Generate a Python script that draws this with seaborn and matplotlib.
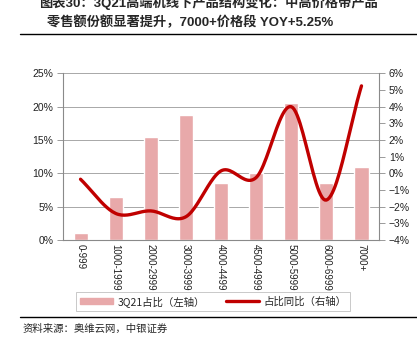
import numpy as np
import pandas as pd
import matplotlib
matplotlib.use("Agg")
import matplotlib.pyplot as plt
import seaborn as sns
from matplotlib.ticker import PercentFormatter, FixedLocator
from matplotlib.lines import Line2D
from matplotlib.patches import Patch

# 데이터
price_band = ['0-999', '1000-1999', '2000-2999', '3000-3999', '4000-4499',
              '4500-4999', '5000-5999', '6000-6999', '7000+']
share_3q21 = [1.0, 6.4, 15.4, 18.7, 8.5, 10.0, 20.6, 8.6, 11.0]      # 左轴 %
share_yoy = [-0.35, -2.4, -2.25, -2.6, 0.15, -0.25, 4.0, -1.6, 5.25]  # 右轴 %

sns.set_theme(style="white")
plt.rcParams['font.family'] = ['Liberation Sans', 'Noto Sans CJK SC', 'DejaVu Sans']

fig = plt.figure(figsize=(4.17, 3.51), dpi=100)
ax = fig.add_axes([0.151, 0.316, 0.758, 0.475])

df = pd.DataFrame({'band': price_band, 'share': share_3q21})
sns.barplot(data=df, x='band', y='share', color='#e8a9aa', saturation=1,
            width=0.4, ax=ax)

ax.set_ylim(0, 25)
ax.set_yticks(range(0, 26, 5))
ax.yaxis.set_major_formatter(PercentFormatter(100, decimals=0))
ax.set_xlim(-0.5, len(price_band) - 0.5)
ax.set_xlabel('')
ax.set_ylabel('')
ax.grid(axis='y', color='#9a9a9a', lw=0.6)
ax.set_axisbelow(True)
ax.set_xticks(range(len(price_band)))
ax.set_xticklabels(price_band, rotation=270, fontsize=7, color='#222222')
ax.tick_params(axis='x', length=0, pad=3)
ax.xaxis.set_minor_locator(FixedLocator(np.arange(-0.5, len(price_band), 1)))
ax.tick_params(axis='x', which='minor', length=4, color='#8a8a8a', width=0.6)
ax.tick_params(axis='y', length=4, color='#8a8a8a', width=0.6, labelsize=7.5,
               labelcolor='#222222', left=True, pad=3)
for s in ['top', 'right']:
    ax.spines[s].set_visible(False)
for s in ['left', 'bottom']:
    ax.spines[s].set_color('#8a8a8a')
    ax.spines[s].set_linewidth(0.8)

# 오른쪽 축: 부드러운 선 (엑셀 스무딩 느낌, Catmull-Rom)
ax2 = ax.twinx()
xs = np.arange(len(share_yoy), dtype=float)
ys = np.array(share_yoy, dtype=float)
px = np.concatenate([[2 * xs[0] - xs[1]], xs, [2 * xs[-1] - xs[-2]]])
py = np.concatenate([[2 * ys[0] - ys[1]], ys, [2 * ys[-1] - ys[-2]]])
t = np.linspace(0, 1, 25)
cx, cy = [], []
for i in range(1, len(px) - 2):
    for arr, out in ((px, cx), (py, cy)):
        p0, p1, p2, p3 = arr[i - 1], arr[i], arr[i + 1], arr[i + 2]
        out.extend(0.5 * (2 * p1 + (-p0 + p2) * t + (2 * p0 - 5 * p1 + 4 * p2 - p3) * t ** 2
                          + (-p0 + 3 * p1 - 3 * p2 + p3) * t ** 3))
sns.lineplot(x=cx, y=cy, sort=False, color='#c00000', lw=2.4, ax=ax2)
ax2.set_ylim(-4, 6)
ax2.set_yticks(range(-4, 7))
ax2.yaxis.set_major_formatter(PercentFormatter(100, decimals=0))
ax2.tick_params(axis='y', length=4, color='#8a8a8a', width=0.6, labelsize=7.5,
                labelcolor='#222222', right=True, pad=3)
ax2.grid(False)
for s in ['top', 'left', 'bottom']:
    ax2.spines[s].set_visible(False)
ax2.spines['right'].set_color('#8a8a8a')
ax2.spines['right'].set_linewidth(0.8)

# 범례
handles = [Patch(color='#e8a9aa'), Line2D([], [], color='#c00000', lw=2.4)]
leg = fig.legend(handles, ['3Q21占比（左轴）', '占比同比（右轴）'],
                 loc='center', bbox_to_anchor=(0.511, 0.142), ncol=2,
                 frameon=True, fancybox=False, edgecolor='#b0b0b0',
                 handlelength=3.2, handleheight=0.6, columnspacing=2.0,
                 borderpad=0.4, handletextpad=0.4,
                 prop={'family': ['Noto Sans CJK SC'], 'size': 7.5})
leg.get_frame().set_linewidth(0.6)

# 제목
title_font = ['Liberation Sans', 'Noto Sans CJK SC', 'DejaVu Sans']
fig.text(0.5, 0.993, '图表30：3Q21高端机线下产品结构变化：中高价格带产品', ha='center',
         va='center', fontsize=9.5, fontweight='bold', family=title_font)
fig.text(0.455, 0.937, '零售额份额显著提升，7000+价格段 YOY+5.25%', ha='center',
         va='center', fontsize=9.5, fontweight='bold', family=title_font)
fig.add_artist(Line2D([0.048, 1.0], [0.903, 0.903], color='black', lw=1.0))
fig.add_artist(Line2D([0.048, 1.0], [0.098, 0.098], color='black', lw=1.0))
fig.text(0.055, 0.062, '资料来源：奥维云网，中银证券', ha='left', va='center',
         fontsize=7.5, style='italic', family=['Noto Sans CJK SC', 'DejaVu Sans'])

fig.savefig('out.png', dpi=100)
